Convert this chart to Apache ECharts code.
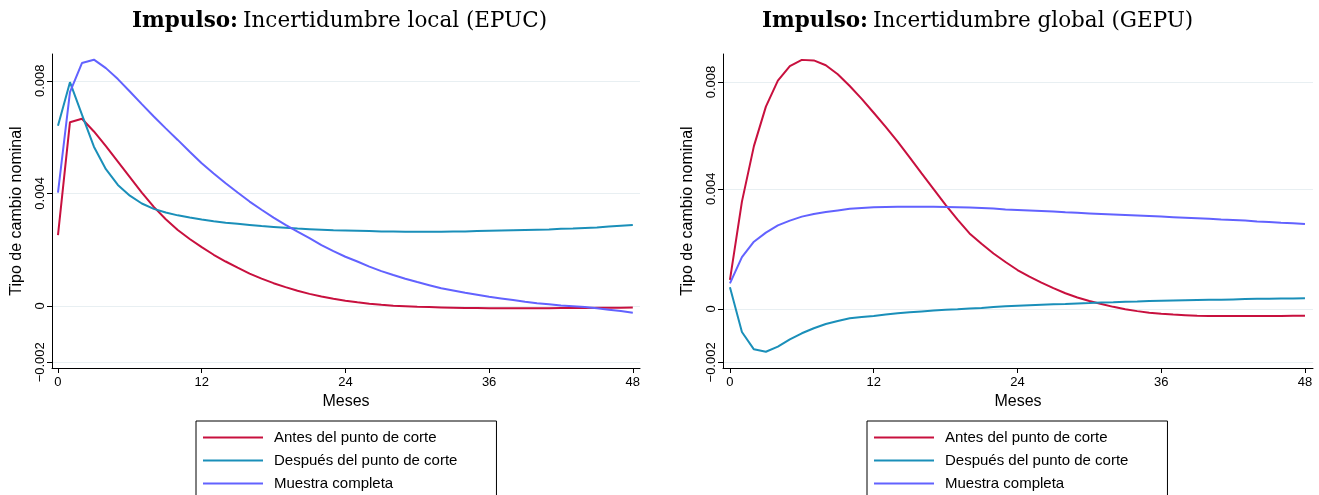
<!DOCTYPE html>
<html>
<head>
<meta charset="utf-8">
<script src="https://cdn.jsdelivr.net/npm/echarts@6/dist/echarts.min.js"></script>
<style>
html,body{margin:0;padding:0;background:#fff;}
#c{width:1319px;height:495px;}
</style>
</head>
<body>
<div id="c"></div>
<script>
// ---------- DATA ----------
const months = [0,1,2,3,4,5,6,7,8,9,10,11,12,13,14,15,16,17,18,19,20,21,22,23,24,25,26,27,28,29,30,31,32,33,34,35,36,37,38,39,40,41,42,43,44,45,46,47,48];
const seriesNames = ['Antes del punto de corte', 'Después del punto de corte', 'Muestra completa'];

// Left panel: Impulso: Incertidumbre local (EPUC)
const localAntes = [0.00252,0.00653,0.00665,0.00620,0.00568,0.00513,0.00458,0.00403,0.00352,0.00308,0.00270,0.00238,0.00209,0.00182,0.00158,0.00136,0.00115,0.00097,0.00081,0.00067,0.00054,0.00043,0.00034,0.00026,0.00019,0.00013,0.00008,0.00004,0.00001,-0.00001,-0.00003,-0.00004,-0.00005,-0.00006,-0.00007,-0.00007,-0.00008,-0.00008,-0.00008,-0.00008,-0.00008,-0.00008,-0.00007,-0.00007,-0.00007,-0.00006,-0.00006,-0.00006,-0.00005];
const localDespues = [0.00640,0.00795,0.00680,0.00566,0.00486,0.00430,0.00392,0.00364,0.00345,0.00332,0.00322,0.00314,0.00307,0.00301,0.00296,0.00292,0.00288,0.00284,0.00281,0.00278,0.00275,0.00273,0.00271,0.00269,0.00268,0.00267,0.00266,0.00265,0.00265,0.00264,0.00264,0.00264,0.00264,0.00265,0.00265,0.00266,0.00267,0.00268,0.00269,0.00270,0.00271,0.00272,0.00274,0.00275,0.00277,0.00279,0.00282,0.00285,0.00288];
const localCompleta = [0.00403,0.00760,0.00863,0.00875,0.00845,0.00806,0.00762,0.00717,0.00673,0.00631,0.00590,0.00548,0.00507,0.00471,0.00436,0.00403,0.00371,0.00342,0.00314,0.00288,0.00264,0.00241,0.00216,0.00195,0.00175,0.00158,0.00140,0.00124,0.00110,0.00097,0.00085,0.00074,0.00063,0.00055,0.00047,0.00040,0.00033,0.00027,0.00021,0.00015,0.00010,0.00006,0.00002,-0.00001,-0.00004,-0.00008,-0.00013,-0.00018,-0.00024];

// Right panel: Impulso: Incertidumbre global (GEPU)
const globalAntes = [0.00109,0.00402,0.00610,0.00758,0.00855,0.00910,0.00933,0.00931,0.00913,0.00879,0.00835,0.00787,0.00735,0.00682,0.00627,0.00568,0.00508,0.00449,0.00390,0.00335,0.00283,0.00244,0.00208,0.00176,0.00146,0.00121,0.00099,0.00078,0.00059,0.00043,0.00030,0.00019,0.00008,-0.00001,-0.00008,-0.00014,-0.00018,-0.00021,-0.00023,-0.00025,-0.00026,-0.00026,-0.00026,-0.00026,-0.00026,-0.00026,-0.00026,-0.00025,-0.00025];
const globalDespues = [0.00081,-0.00086,-0.00151,-0.00160,-0.00141,-0.00114,-0.00091,-0.00072,-0.00056,-0.00045,-0.00035,-0.00030,-0.00026,-0.00021,-0.00016,-0.00012,-0.00009,-0.00006,-0.00003,-0.00001,0.00002,0.00004,0.00007,0.00010,0.00012,0.00014,0.00016,0.00018,0.00019,0.00021,0.00022,0.00024,0.00025,0.00027,0.00028,0.00030,0.00031,0.00032,0.00033,0.00034,0.00035,0.00035,0.00036,0.00037,0.00038,0.00038,0.00039,0.00039,0.00040];
const globalCompleta = [0.00096,0.00194,0.00252,0.00286,0.00313,0.00331,0.00346,0.00356,0.00363,0.00369,0.00375,0.00378,0.00381,0.00382,0.00383,0.00383,0.00383,0.00383,0.00382,0.00381,0.00380,0.00378,0.00376,0.00373,0.00371,0.00369,0.00367,0.00365,0.00362,0.00360,0.00358,0.00356,0.00354,0.00352,0.00350,0.00348,0.00346,0.00344,0.00342,0.00340,0.00338,0.00335,0.00333,0.00331,0.00328,0.00326,0.00323,0.00321,0.00318];

// Tick values and labels
const xTicks = [0, 12, 24, 36, 48];
const yTicksLeft = [-0.002, 0, 0.004, 0.008];
const yLabelsLeft = ['\u22120.002', '0', '0.004', '0.008'];
const yTicksRight = [-0.002, 0, 0.0045, 0.0085];
const yLabelsRight = ['\u22120.002', '0', '0.004', '0.008'];

const titleBold = 'Impulso:';
const titleLeft = 'Incertidumbre local (EPUC)';
const titleRight = 'Incertidumbre global (GEPU)';
const xName = 'Meses';
const yName = 'Tipo de cambio nominal';

// ---------- STYLE ----------
const colors = ['#C8103E', '#1A8FB9', '#6262FF'];
const sansFont = '"Liberation Sans", Arial, Helvetica, sans-serif';
const serifFont = '"DejaVu Serif", "Liberation Serif", serif';

function pairs(arr){ return arr.map((v,i)=>[months[i], v]); }

function xAxisCfg(gi, min, max){
  return {
    type:'value', gridIndex:gi, min:min, max:max,
    name:xName, nameLocation:'middle', nameGap:26,
    nameTextStyle:{fontFamily:sansFont, fontSize:16, color:'#000'},
    axisLine:{show:true, onZero:false, lineStyle:{color:'#000', width:1}},
    axisTick:{show:true, length:5, customValues:xTicks, lineStyle:{color:'#000'}},
    axisLabel:{show:true, customValues:xTicks, margin:8, fontFamily:sansFont, fontSize:13, color:'#000'},
    splitLine:{show:false}
  };
}
function yAxisCfg(gi, min, max, ticks, labels){
  return {
    type:'value', gridIndex:gi, min:min, max:max,
    name:yName, nameLocation:'middle', nameGap:27,
    nameTextStyle:{fontFamily:sansFont, fontSize:16, color:'#000'},
    axisLine:{show:true, onZero:false, lineStyle:{color:'#000', width:1}},
    axisTick:{show:true, length:5, customValues:ticks, lineStyle:{color:'#000'}},
    axisLabel:{show:true, customValues:ticks, rotate:90, margin:5, fontFamily:sansFont, fontSize:13, color:'#000',
      formatter:function(v){ const k = ticks.findIndex(t=>Math.abs(t-v)<1e-9); return k>=0 ? labels[k] : ''; }},
    splitLine:{show:true, lineStyle:{color:'#E8EFF2', width:1}}
  };
}
function lineSeries(name, data, xi, yi, color){
  return {
    type:'line', name:name, xAxisIndex:xi, yAxisIndex:yi, data:pairs(data),
    showSymbol:false, symbol:'none', smooth:false, animation:false,
    lineStyle:{color:color, width:2}, itemStyle:{color:color}
  };
}
function legendCfg(left){
  return {
    orient:'vertical', left:left, top:421, height:120,
    data:seriesNames, icon:'rect', itemWidth:60, itemHeight:2,
    itemGap:6, padding:[8,39,20,7],
    borderColor:'#000', borderWidth:1, selectedMode:false,
    textStyle:{fontFamily:sansFont, fontSize:15, color:'#000', padding:[0,0,0,6], lineHeight:17}
  };
}
function titleCfg(left, txt){
  return {
    left:left, top:5,
    text:'{b|' + titleBold + '} {n|' + txt + '}',
    textStyle:{rich:{
      b:{fontFamily:serifFont, fontWeight:'bold', fontSize:21.5, color:'#000'},
      n:{fontFamily:serifFont, fontWeight:'normal', fontSize:21.5, color:'#000'}
    }}
  };
}

const chart = echarts.init(document.getElementById('c'), null, {renderer:'canvas'});
chart.setOption({
  animation:false,
  backgroundColor:'#fff',
  title:[titleCfg(127, titleLeft), titleCfg(757, titleRight)],
  legend:[legendCfg(196), legendCfg(867)],
  grid:[
    {left:52, top:54, width:588, height:314, containLabel:false},
    {left:723, top:54, width:590, height:314, containLabel:false}
  ],
  xAxis:[xAxisCfg(0, -0.5, 48.6), xAxisCfg(1, -0.58, 48.67)],
  yAxis:[yAxisCfg(0, -0.002203, 0.008952, yTicksLeft, yLabelsLeft), yAxisCfg(1, -0.00221, 0.00955, yTicksRight, yLabelsRight)],
  series:[
    lineSeries(seriesNames[0], localAntes, 0, 0, colors[0]),
    lineSeries(seriesNames[1], localDespues, 0, 0, colors[1]),
    lineSeries(seriesNames[2], localCompleta, 0, 0, colors[2]),
    lineSeries(seriesNames[0], globalAntes, 1, 1, colors[0]),
    lineSeries(seriesNames[1], globalDespues, 1, 1, colors[1]),
    lineSeries(seriesNames[2], globalCompleta, 1, 1, colors[2])
  ]
});
</script>
</body>
</html>
